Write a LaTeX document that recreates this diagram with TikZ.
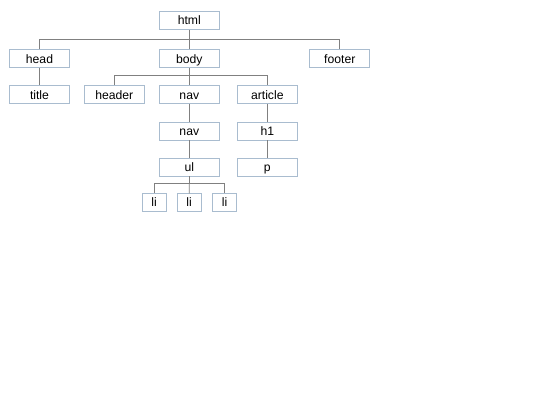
\documentclass[tikz,border=0pt]{standalone}
\usepackage{fontspec}
\setmainfont{Liberation Sans}
\definecolor{boxc}{HTML}{A9BCCF}
\definecolor{linec}{HTML}{808080}
\begin{document}
\begin{tikzpicture}[x=1pt,y=-1pt,
  elem/.style={draw=boxc,line width=0.8pt,fill=white,minimum width=60pt,minimum height=18pt,inner sep=0pt,text height=9.4pt,text depth=1pt,font=\fontsize{12.2}{14}\selectfont,anchor=center},
  small/.style={elem,minimum width=24.5pt},
  conn/.style={draw=linec,line width=0.7pt}]
\useasboundingbox (0,0) rectangle (540,405);
\coordinate (j1) at (189.3,39.5);
\coordinate (j2) at (189.3,75.7);
\coordinate (j3) at (189.3,183);
\node[elem] (html) at (189.3,20.5) {html};
\node[elem] (head) at (39.5,58.8) {head};
\node[elem] (body) at (189.3,58.8) {body};
\node[elem] (footer) at (339.8,58.8) {footer};
\node[elem] (title) at (39.5,94.8) {title};
\node[elem] (header) at (114.3,94.8) {header};
\node[elem] (nav1) at (189.3,94.8) {nav};
\node[elem] (article) at (267.3,94.8) {article};
\node[elem] (nav2) at (189.3,131) {nav};
\node[elem] (h1) at (267.3,131) {h1};
\node[elem] (ul) at (189.3,167) {ul};
\node[elem] (p) at (267.3,167) {p};
\node[small] (li1) at (154.2,202.7) {li};
\node[small] (li2) at (189.2,202.7) {li};
\node[small] (li3) at (224.5,202.7) {li};
\draw[conn] (html.south) -- (j1);
\draw[conn] (j1) -| (head.north);
\draw[conn] (j1) -| (footer.north);
\draw[conn] (j1) -- (body.north);
\draw[conn] (head.south) -- (title.north);
\draw[conn] (body.south) -- (j2);
\draw[conn] (j2) -| (header.north);
\draw[conn] (j2) -| (article.north);
\draw[conn] (j2) -- (nav1.north);
\draw[conn] (nav1.south) -- (nav2.north);
\draw[conn] (nav2.south) -- (ul.north);
\draw[conn] (article.south) -- (h1.north);
\draw[conn] (h1.south) -- (p.north);
\draw[conn] (ul.south) -- (j3);
\draw[conn] (j3) -| (li1.north);
\draw[conn] (j3) -| (li3.north);
\draw[conn] (j3) -- (li2.north);
\end{tikzpicture}
\end{document}
